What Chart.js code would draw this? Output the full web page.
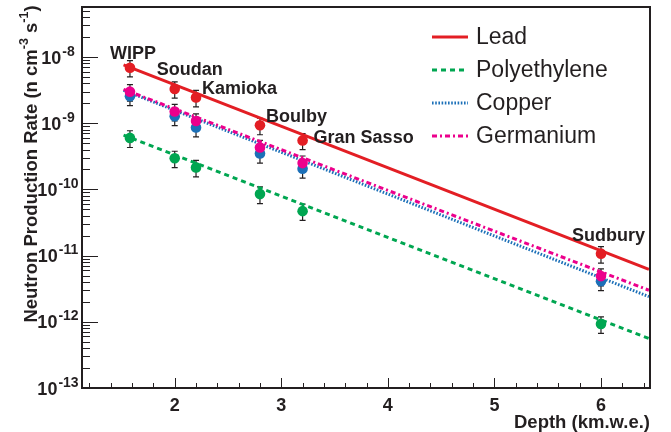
<!DOCTYPE html>
<html><head><meta charset="utf-8">
<script src="https://cdn.jsdelivr.net/npm/chart.js@4"></script>
<style>html,body{margin:0;padding:0;background:#fff}#wrap{width:671px;height:432px;position:relative}canvas{display:block}</style>
</head><body><div id="wrap"><canvas id="c" width="671" height="432" style="width:671px;height:432px"></canvas></div>
<script>
// ---- data ----
const sites = ['WIPP', 'Soudan', 'Kamioka', 'Boulby', 'Gran Sasso', 'Sudbury'];
const depths = [1.58, 2.0, 2.2, 2.8, 3.2, 6.0];               // km.w.e.
const lead = [6.9e-9, 3.3e-9, 2.45e-9, 9.3e-10, 5.5e-10, 1.07e-11];
const leadErr = [1.9e-9, 0.9e-9, 0.68e-9, 2.6e-10, 1.5e-10, 3.0e-12];
const poly = [6.0e-10, 2.95e-10, 2.15e-10, 8.5e-11, 4.7e-11, 9.3e-13];
const polyErr = [1.7e-10, 0.82e-10, 0.6e-10, 2.4e-11, 1.3e-11, 2.6e-13];
const copper = [2.55e-9, 1.28e-9, 8.6e-10, 3.5e-10, 2.05e-10, 4.1e-12];
const copperErr = [7.0e-10, 3.6e-10, 2.4e-10, 1.0e-10, 5.7e-11, 1.15e-12];
const germanium = [3.0e-9, 1.5e-9, 1.08e-9, 4.3e-10, 2.5e-10, 4.9e-12];
const germaniumErr = [8.4e-10, 4.2e-10, 3.0e-10, 1.2e-10, 7.0e-11, 1.4e-12];
// fitted lines (end points)
const fitDepths = [1.52, 6.45];
const leadFit = [7.6e-9, 6.2e-12];
const polyFit = [6.6e-10, 5.6e-13];
const copperFit = [3.15e-9, 2.4e-12];
const germaniumFit = [3.25e-9, 3.0e-12];
const xTickValues = [2, 3, 4, 5, 6];
const yTickExponents = [-13, -12, -11, -10, -9, -8];
const legendNames = ['Lead', 'Polyethylene', 'Copper', 'Germanium'];

// ---- styles ----
const INK = '#231f20';
const FONT = '"Liberation Sans", Arial, Helvetica, sans-serif';
const styles = {
  Lead: {color: '#e31e24', dash: [], width: 3},
  Polyethylene: {color: '#00a651', dash: [5, 4], width: 3},
  Copper: {color: '#1c70b8', dash: [1.6, 1.6], width: 3},
  Germanium: {color: '#ec008c', dash: [5, 3, 2, 3], width: 3}
};
const siteLabelOffsets = [[-20, -9], [-18, -14], [6, -3], [6, -3], [11, 2.5], [-29, -12.5]];

const pts = (xs, ys) => xs.map((x, i) => ({x: x, y: ys[i]}));

function lineDs(name, ys, order) {
  const s = styles[name];
  return {label: name + ' fit', data: pts(fitDepths, ys), borderColor: s.color, borderWidth: s.width,
    borderDash: s.dash, pointRadius: 0, showLine: true, fill: false, order: order, tension: 0};
}
function pointDs(name, ys, errs, order) {
  const s = styles[name];
  return {label: name, data: pts(depths, ys), errors: errs, showLine: false, pointRadius: 5.3,
    pointBackgroundColor: s.color, pointBorderColor: s.color, pointBorderWidth: 0,
    borderColor: s.color, backgroundColor: s.color, order: order};
}

const rootPlugin = {
  id: 'rootStyle',
  beforeDatasetsDraw(chart) {
    const ctx = chart.ctx, xs = chart.scales.x, ys = chart.scales.y;
    ctx.save();
    ctx.strokeStyle = INK; ctx.lineWidth = 1.2; ctx.setLineDash([]);
    chart.data.datasets.forEach(ds => {
      if (!ds.errors) return;
      ds.data.forEach((p, i) => {
        const e = ds.errors[i];
        const px = xs.getPixelForValue(p.x);
        const y1 = ys.getPixelForValue(p.y + e), y2 = ys.getPixelForValue(p.y - e);
        ctx.beginPath();
        ctx.moveTo(px, y1); ctx.lineTo(px, y2);
        ctx.moveTo(px - 3, y1); ctx.lineTo(px + 3, y1);
        ctx.moveTo(px - 3, y2); ctx.lineTo(px + 3, y2);
        ctx.stroke();
      });
    });
    ctx.restore();
  },
  afterDraw(chart) {
    const ctx = chart.ctx, xs = chart.scales.x, ys = chart.scales.y, a = chart.chartArea;
    ctx.save();
    ctx.setLineDash([]);
    // frame
    ctx.strokeStyle = INK; ctx.lineWidth = 2;
    ctx.strokeRect(a.left, a.top, a.right - a.left, a.bottom - a.top);
    // y ticks
    ctx.lineWidth = 1;
    for (let d = -13; d <= -8; d++) {
      for (let m = 1; m <= 9; m++) {
        const v = m * Math.pow(10, d);
        if (v < ys.min * 0.999 || v > ys.max) continue;
        const py = Math.round(ys.getPixelForValue(v)) + 0.5;
        const len = m === 1 ? 16 : 8;
        ctx.beginPath(); ctx.moveTo(a.left, py); ctx.lineTo(a.left + len, py); ctx.stroke();
      }
    }
    // x ticks
    for (let k = 6; k <= 32; k++) {
      const v = k / 5;
      if (v < xs.min || v > xs.max) continue;
      const px = Math.round(xs.getPixelForValue(v)) + 0.5;
      const len = (k % 5 === 0) ? 10 : 5;
      ctx.beginPath(); ctx.moveTo(px, a.bottom); ctx.lineTo(px, a.bottom - len); ctx.stroke();
    }
    ctx.fillStyle = INK;
    // y tick labels 10^n
    yTickExponents.forEach(n => {
      const py = ys.getPixelForValue(Math.pow(10, n));
      ctx.font = 'bold 18px ' + FONT;
      const w1 = ctx.measureText('10').width;
      ctx.font = 'bold 14px ' + FONT;
      const sup = String(n);
      const w2 = ctx.measureText(sup).width;
      const left = 58 - (w1 + 1 + w2) / 2;
      ctx.textBaseline = 'alphabetic'; ctx.textAlign = 'left';
      ctx.font = 'bold 18px ' + FONT;
      ctx.fillText('10', left, py + 6.5);
      ctx.font = 'bold 14px ' + FONT;
      ctx.fillText(sup, left + w1 + 1, py - 1.5);
    });
    // x tick labels
    ctx.font = 'bold 18px ' + FONT; ctx.textAlign = 'center'; ctx.textBaseline = 'alphabetic';
    xTickValues.forEach(v => ctx.fillText(String(v), xs.getPixelForValue(v), 411));
    // x title
    ctx.font = 'bold 18.5px ' + FONT; ctx.textAlign = 'right';
    ctx.fillText('Depth (km.w.e.)', a.right, 428);
    // y title (rotated, with superscripts)
    const parts = [['Neutron Production Rate (n cm', 0], ['-3', 1], [' s', 0], ['-1', 1], [')', 0]];
    const fMain = 'bold 18.5px ' + FONT, fSup = 'bold 12.5px ' + FONT;
    let total = 0;
    parts.forEach(p => { ctx.font = p[1] ? fSup : fMain; total += ctx.measureText(p[0]).width; });
    ctx.translate(37, 164);
    ctx.rotate(-Math.PI / 2);
    ctx.textAlign = 'left';
    let cx = -total / 2;
    parts.forEach(p => {
      ctx.font = p[1] ? fSup : fMain;
      ctx.fillText(p[0], cx, p[1] ? -9 : 0);
      cx += ctx.measureText(p[0]).width;
    });
    ctx.setTransform(1, 0, 0, 1, 0, 0);
    // site labels anchored to lead points
    ctx.font = 'bold 18px ' + FONT; ctx.textAlign = 'left'; ctx.textBaseline = 'alphabetic';
    sites.forEach((s, i) => {
      const px = xs.getPixelForValue(depths[i]), py = ys.getPixelForValue(lead[i]);
      ctx.fillText(s, px + siteLabelOffsets[i][0], py + siteLabelOffsets[i][1]);
    });
    // legend
    legendNames.forEach((name, i) => {
      const st = styles[name];
      const y = 37 + i * 33;
      ctx.strokeStyle = st.color; ctx.lineWidth = st.width; ctx.setLineDash(st.dash);
      ctx.beginPath(); ctx.moveTo(432, y); ctx.lineTo(468, y); ctx.stroke();
      ctx.setLineDash([]);
      ctx.fillStyle = INK; ctx.font = '23px ' + FONT; ctx.textBaseline = 'middle';
      ctx.fillText(name, 476, y + 1);
    });
    ctx.restore();
  }
};

new Chart(document.getElementById('c'), {
  type: 'line',
  data: {
    datasets: [
      pointDs('Germanium', germanium, germaniumErr, 1),
      pointDs('Copper', copper, copperErr, 2),
      pointDs('Lead', lead, leadErr, 3),
      pointDs('Polyethylene', poly, polyErr, 4),
      lineDs('Lead', leadFit, 10),
      lineDs('Germanium', germaniumFit, 11),
      lineDs('Copper', copperFit, 12),
      lineDs('Polyethylene', polyFit, 13)
    ]
  },
  options: {
    responsive: false, animation: false, devicePixelRatio: 1,
    layout: {padding: {left: 82, right: 21, top: 7, bottom: 44}},
    plugins: {legend: {display: false}, tooltip: {enabled: false}},
    scales: {
      x: {type: 'linear', min: 1.13, max: 6.46, display: false},
      y: {type: 'logarithmic', min: 1e-13, max: 5.7e-8, display: false}
    }
  },
  plugins: [rootPlugin]
});
</script>
</body></html>
